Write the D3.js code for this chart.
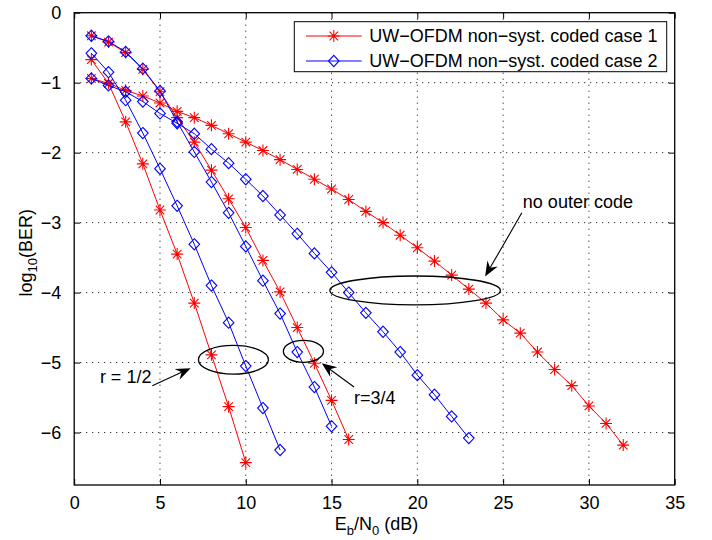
<!DOCTYPE html>
<html>
<head>
<meta charset="utf-8">
<script src="https://cdn.jsdelivr.net/npm/d3@7"></script>
<style>
  body { margin: 0; background: #fff; }
  svg { display: block; font-family: "Liberation Sans", Arial, Helvetica, sans-serif; }
</style>
</head>
<body>
<svg id="chart" width="712" height="540"></svg>
<script>
(function () {
    'use strict';

    // Eb/N0 (dB) vs log10(BER)
    const case1Half   = [[1,-0.67],[2,-1.01],[3,-1.56],[4,-2.16],[5,-2.82],[6,-3.45],[7,-4.15],[8,-4.89],[9,-5.63],[10,-6.43]];
    const case1Three  = [[1,-0.33],[2,-0.42],[3,-0.57],[4,-0.81],[5,-1.13],[6,-1.5],[7,-1.85],[8,-2.25],[9,-2.66],[10,-3.07],
                         [11,-3.54],[12,-3.99],[13,-4.5],[14,-5.01],[15,-5.54],[16,-6.1]];
    const case1None   = [[1,-0.94],[2,-1.01],[3,-1.11],[4,-1.19],[5,-1.29],[6,-1.41],[7,-1.5],[8,-1.61],[9,-1.73],[10,-1.85],
                         [11,-1.97],[12,-2.1],[13,-2.24],[14,-2.38],[15,-2.52],[16,-2.67],[17,-2.84],[18,-3.0],[19,-3.18],
                         [20,-3.36],[21,-3.55],[22,-3.75],[23,-3.95],[24,-4.15],[25,-4.39],[26,-4.58],[27,-4.85],[28,-5.1],
                         [29,-5.33],[30,-5.62],[31,-5.87],[32,-6.18]];
    const case2Half   = [[1,-0.58],[2,-0.85],[3,-1.25],[4,-1.72],[5,-2.23],[6,-2.76],[7,-3.31],[8,-3.9],[9,-4.43],[10,-5.05],
                         [11,-5.65],[12,-6.25]];
    const case2Three  = [[1,-0.33],[2,-0.41],[3,-0.56],[4,-0.8],[5,-1.12],[6,-1.56],[7,-1.99],[8,-2.42],[9,-2.86],[10,-3.34],
                         [11,-3.83],[12,-4.3],[13,-4.85],[14,-5.35],[15,-5.91]];
    const case2None   = [[1,-0.94],[2,-1.04],[3,-1.13],[4,-1.27],[5,-1.44],[6,-1.58],[7,-1.73],[8,-1.95],[9,-2.15],[10,-2.38],
                         [11,-2.62],[12,-2.89],[13,-3.16],[14,-3.44],[15,-3.71],[16,-4.0],[17,-4.29],[18,-4.56],[19,-4.85],
                         [20,-5.18],[21,-5.46],[22,-5.77],[23,-6.08]];

    const xTicks = [0, 5, 10, 15, 20, 25, 30, 35];
    const yTicks = [0, -1, -2, -3, -4, -5, -6];
    const legendLabels = ["UW\u2212OFDM non\u2212syst. coded case 1", "UW\u2212OFDM non\u2212syst. coded case 2"];

    // annotations in data units: ellipses [cx, cy, rx, ry], arrows [x0, y0, x1, y1], texts [x, y, label, anchor]
    const ellipses = [[9.28, -4.96, 2.04, 0.205], [13.36, -4.84, 1.17, 0.157], [19.87, -3.97, 4.97, 0.207]];
    const arrows = [[4.55, -5.33, 6.79, -5.08], [16.31, -5.35, 14.43, -5.01], [26.09, -2.86, 23.95, -3.77]];
    const notes = [[4.5, -5.29, "r = 1/2", "end"], [16.31, -5.59, "r=3/4", "start"], [26.15, -2.79, "no outer code", "start"]];

    const margin = {left: 74.2, right: 674.7, top: 12.7, bottom: 485};
    const x = d3.scaleLinear().domain([0, 35]).range([margin.left, margin.right]);
    const y = d3.scaleLinear().domain([-6.75, 0]).range([margin.bottom, margin.top]);

    const svg = d3.select("#chart");
    const fontSize = 18;

    // grid
    const grid = svg.append("g")
        .attr("stroke", "#000")
        .attr("stroke-width", 1)
        .attr("stroke-dasharray", "1,5");
    grid.selectAll("line.gx")
        .data(xTicks.filter(t => t > 0 && t < 35))
        .join("line")
        .attr("x1", d => x(d)).attr("x2", d => x(d))
        .attr("y1", margin.top).attr("y2", margin.bottom);
    grid.selectAll("line.gy")
        .data(yTicks.filter(t => t < 0))
        .join("line")
        .attr("class", "gy")
        .attr("x1", margin.left).attr("x2", margin.right)
        .attr("y1", d => y(d)).attr("y2", d => y(d));

    // axes, ticks inside on all four sides
    const tickLen = 6;
    const fmt = d => d < 0 ? "\u2212" + Math.abs(d) : String(d);
    svg.append("g")
        .attr("transform", `translate(0,${margin.bottom})`)
        .call(d3.axisBottom(x).tickValues(xTicks).tickSizeInner(-tickLen).tickSizeOuter(0).tickPadding(11).tickFormat(fmt));
    svg.append("g")
        .attr("transform", `translate(0,${margin.top})`)
        .call(d3.axisTop(x).tickValues(xTicks).tickSizeInner(-tickLen).tickSizeOuter(0).tickFormat(""));
    svg.append("g")
        .attr("transform", `translate(${margin.left},0)`)
        .call(d3.axisLeft(y).tickValues(yTicks).tickSizeInner(-tickLen).tickSizeOuter(0).tickPadding(13).tickFormat(fmt));
    svg.append("g")
        .attr("transform", `translate(${margin.right},0)`)
        .call(d3.axisRight(y).tickValues(yTicks).tickSizeInner(-tickLen).tickSizeOuter(0).tickFormat(""));

    svg.selectAll(".tick text")
        .attr("font-size", fontSize)
        .attr("font-family", "Liberation Sans, Arial, Helvetica, sans-serif")
        .attr("fill", "#000");
    svg.selectAll(".domain").remove();
    svg.selectAll(".tick line").attr("stroke", "#000");

    svg.append("rect")
        .attr("x", margin.left).attr("y", margin.top)
        .attr("width", margin.right - margin.left)
        .attr("height", margin.bottom - margin.top)
        .attr("fill", "none")
        .attr("stroke", "#000")
        .attr("stroke-width", 1.3);

    // curves
    const line = d3.line().x(d => x(d[0])).y(d => y(d[1]));
    const star = "M0,-6V6M-6,0H6M-4.3,-4.3L4.3,4.3M-4.3,4.3L4.3,-4.3";
    const diamond = "M0,-5.6L5.3,0L0,5.6L-5.3,0Z";

    const series = [
        {data: case1Half, color: "#ff0000", marker: star},
        {data: case1Three, color: "#ff0000", marker: star},
        {data: case1None, color: "#ff0000", marker: star},
        {data: case2Half, color: "#0000ff", marker: diamond},
        {data: case2Three, color: "#0000ff", marker: diamond},
        {data: case2None, color: "#0000ff", marker: diamond}
    ];

    series.forEach(s => {
        const g = svg.append("g");
        g.append("path")
            .attr("d", line(s.data))
            .attr("fill", "none")
            .attr("stroke", s.color)
            .attr("stroke-width", 1);
        g.selectAll("path.m")
            .data(s.data)
            .join("path")
            .attr("class", "m")
            .attr("transform", d => `translate(${x(d[0])},${y(d[1])})`)
            .attr("d", s.marker)
            .attr("fill", "none")
            .attr("stroke", s.color)
            .attr("stroke-width", 1.1);
    });

    // annotations
    const ann = svg.append("g").attr("stroke", "#000").attr("fill", "none");
    ann.selectAll("ellipse")
        .data(ellipses)
        .join("ellipse")
        .attr("cx", d => x(d[0]))
        .attr("cy", d => y(d[1]))
        .attr("rx", d => x(d[0] + d[2]) - x(d[0]))
        .attr("ry", d => y(d[1] - d[3]) - y(d[1]))
        .attr("stroke-width", 1.3);

    arrows.forEach(a => {
        const x0 = x(a[0]), y0 = y(a[1]), x1 = x(a[2]), y1 = y(a[3]);
        const ang = Math.atan2(y1 - y0, x1 - x0);
        const headLen = 15, headW = 6, notch = 10;
        const ux = Math.cos(ang), uy = Math.sin(ang);
        const px = -uy, py = ux;
        ann.append("line")
            .attr("x1", x0).attr("y1", y0)
            .attr("x2", x1 - ux * notch).attr("y2", y1 - uy * notch)
            .attr("stroke-width", 1.1);
        const pts = [
            [x1, y1],
            [x1 - ux * headLen + px * headW, y1 - uy * headLen + py * headW],
            [x1 - ux * notch, y1 - uy * notch],
            [x1 - ux * headLen - px * headW, y1 - uy * headLen - py * headW]
        ];
        ann.append("path")
            .attr("d", "M" + pts.map(p => p.join(",")).join("L") + "Z")
            .attr("fill", "#000")
            .attr("stroke", "none");
    });

    svg.append("g")
        .selectAll("text")
        .data(notes)
        .join("text")
        .attr("x", d => x(d[0]))
        .attr("y", d => y(d[1]))
        .attr("text-anchor", d => d[3])
        .attr("font-size", fontSize)
        .attr("fill", "#000")
        .text(d => d[2]);

    // axis titles
    const xt = svg.append("text")
        .attr("x", (margin.left + margin.right) / 2 + 2)
        .attr("y", 530)
        .attr("text-anchor", "middle")
        .attr("font-size", fontSize);
    xt.append("tspan").text("E");
    xt.append("tspan").attr("font-size", 13).attr("dy", 5).text("b");
    xt.append("tspan").attr("dy", -5).text("/N");
    xt.append("tspan").attr("font-size", 13).attr("dy", 5).text("0");
    xt.append("tspan").attr("dy", -5).text(" (dB)");

    const yt = svg.append("text")
        .attr("transform", `translate(32,${(margin.top + margin.bottom) / 2 + 4}) rotate(-90)`)
        .attr("text-anchor", "middle")
        .attr("font-size", fontSize);
    yt.append("tspan").text("log");
    yt.append("tspan").attr("font-size", 13).attr("dy", 5).text("10");
    yt.append("tspan").attr("dy", -5).text("(BER)");

    // legend
    const lg = svg.append("g");
    lg.append("rect")
        .attr("x", 294.3).attr("y", 21.7)
        .attr("width", 372.4).attr("height", 50)
        .attr("fill", "#fff")
        .attr("stroke", "#000")
        .attr("stroke-width", 1);
    legendLabels.forEach((label, i) => {
        const s = series[i * 3];
        const ly = 36 + i * 25;
        lg.append("line")
            .attr("x1", 306).attr("x2", 361.7)
            .attr("y1", ly).attr("y2", ly)
            .attr("stroke", s.color).attr("stroke-width", 1);
        lg.append("path")
            .attr("transform", `translate(333.8,${ly})`)
            .attr("d", s.marker)
            .attr("fill", "none")
            .attr("stroke", s.color)
            .attr("stroke-width", 1.1);
        lg.append("text")
            .attr("x", 369.3)
            .attr("y", ly)
            .attr("dy", "0.35em")
            .attr("font-size", fontSize)
            .attr("fill", "#000")
            .text(label);
    });
}());
</script>
</body>
</html>
